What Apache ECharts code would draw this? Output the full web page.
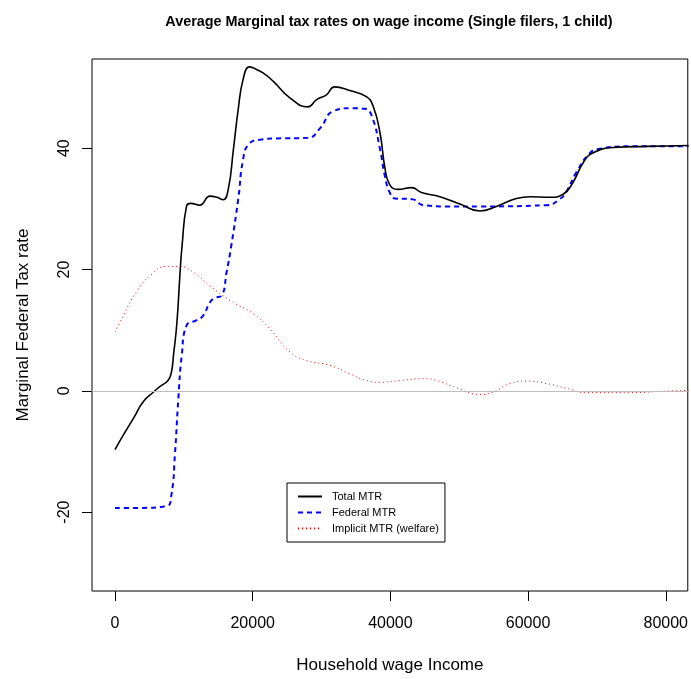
<!DOCTYPE html>
<html>
<head>
<meta charset="utf-8">
<script src="https://cdn.jsdelivr.net/npm/echarts@6/dist/echarts.min.js"></script>
<style>
  html, body { margin: 0; padding: 0; background: #fff; }
  #chart { width: 691px; height: 679px; }
</style>
</head>
<body>
<div id="chart"></div>
<script>
// Average marginal tax rates by household wage income (single filers, 1 child)
const xTicks = [0, 20000, 40000, 60000, 80000];
const yTicks = [-20, 0, 20, 40];

const totalIncome = [0, 1200, 2700, 4100, 5600, 6500, 7700, 8200, 8500, 9000, 9450, 9750, 10400, 11000, 12300, 13800, 14800, 15700, 16450, 17200, 17900, 18600, 19500, 20100, 21500, 23000, 25400, 28000, 29300, 30700, 31900, 34100, 36500, 37500, 38500, 39200, 39900, 41100, 43100, 44500, 47200, 50100, 53000, 55400, 58300, 60300, 63200, 65100, 66500, 68000, 69400, 72400, 77200, 83300];
const totalRate = [-9.7, -7.3, -4.5, -1.8, -0.2, 0.7, 1.7, 3.1, 5.9, 11.3, 19.5, 24.0, 30.5, 30.9, 30.6, 32.1, 31.9, 31.5, 33.2, 39.8, 46.4, 51.3, 53.4, 53.2, 52.4, 51.0, 48.3, 46.8, 48.0, 48.8, 50.1, 49.5, 48.5, 46.9, 42.5, 36.8, 34.0, 33.2, 33.5, 32.7, 32.0, 30.8, 29.65, 30.4, 31.7, 32.0, 31.9, 32.4, 34.3, 37.6, 39.2, 40.1, 40.3, 40.45];

const federalIncome = [0, 3000, 7500, 8200, 8700, 9200, 9700, 10400, 11800, 12800, 13800, 14500, 15500, 16200, 16900, 17900, 18600, 19400, 21000, 23500, 28000, 29800, 31700, 34600, 36300, 37300, 38500, 39200, 39900, 40700, 43100, 44800, 48200, 53000, 62700, 64600, 65600, 67000, 69000, 70400, 74800, 83300];
const federalRate = [-19.3, -19.3, -19.05, -17.1, -10.6, -1.3, 5.9, 10.8, 11.6, 12.4, 14.6, 15.3, 15.7, 19.5, 24.0, 31.6, 38.1, 40.6, 41.4, 41.6, 41.7, 43.3, 46.1, 46.6, 46.5, 45.3, 39.8, 35.4, 32.7, 31.7, 31.6, 30.6, 30.4, 30.4, 30.6, 31.6, 32.9, 36.0, 39.2, 39.9, 40.3, 40.3];

const welfareIncome = [0, 1200, 3100, 5100, 7500, 9400, 11400, 13800, 16700, 20100, 22500, 25400, 27800, 31200, 34100, 36500, 38500, 41400, 44800, 46700, 49600, 53000, 54900, 57400, 59800, 62700, 65600, 68500, 74800, 80100, 83300];
const welfareRate = [9.7, 12.4, 16.3, 19.0, 20.5, 20.5, 19.5, 17.3, 14.9, 12.7, 10.2, 6.4, 5.0, 4.2, 2.8, 1.7, 1.4, 1.7, 2.0, 1.7, 0.5, -0.6, -0.2, 1.2, 1.6, 1.2, 0.4, -0.3, -0.3, -0.05, 0.05];

const pairs = (xs, ys) => xs.map((x, i) => [x, ys[i]]);
const FONT = '"Liberation Sans", Arial, Helvetica, sans-serif';
const plain = v => String(v);

const chart = echarts.init(document.getElementById('chart'), null, { renderer: 'canvas' });

chart.setOption({
  animation: false,
  backgroundColor: '#ffffff',
  title: {
    text: 'Average Marginal tax rates on wage income (Single filers, 1 child)',
    left: 384,
    top: 10,
    textAlign: 'center',
    textStyle: { fontFamily: FONT, fontSize: 14.4, fontWeight: 'bold', color: '#000' }
  },
  grid: {
    left: 92, right: 3, top: 59, bottom: 86,
    show: true, borderColor: '#000', borderWidth: 1, backgroundColor: 'transparent'
  },
  legend: {
    orient: 'vertical',
    left: 287, top: 483,
    padding: [8, 6, 8, 10],
    itemGap: 5,
    itemWidth: 24, itemHeight: 11,
    borderColor: '#000', borderWidth: 1,
    backgroundColor: '#fff',
    itemStyle: { opacity: 0 },
    textStyle: { fontFamily: FONT, fontSize: 11, color: '#000', padding: [0, 0, 0, 5] },
    data: ['Total MTR', 'Federal MTR', 'Implicit MTR (welfare)']
  },
  xAxis: {
    type: 'value',
    min: -3340, max: 83200,
    name: 'Household wage Income',
    nameLocation: 'middle',
    nameGap: 66,
    nameTextStyle: { fontFamily: FONT, fontSize: 17, color: '#000' },
    axisLine: { show: false, onZero: false },
    axisTick: { show: true, length: 10, customValues: xTicks, lineStyle: { color: '#000' } },
    axisLabel: { customValues: xTicks, formatter: plain, margin: 25, fontFamily: FONT, fontSize: 16, color: '#000' },
    splitLine: { show: false }
  },
  yAxis: {
    type: 'value',
    min: -33, max: 54.7,
    name: 'Marginal Federal Tax rate',
    nameLocation: 'middle',
    nameGap: 60,
    nameTextStyle: { fontFamily: FONT, fontSize: 17, color: '#000' },
    axisLine: { show: false, onZero: false },
    axisTick: { show: true, length: 10, customValues: yTicks, lineStyle: { color: '#000' } },
    axisLabel: { customValues: yTicks, formatter: plain, rotate: 90, margin: 19, fontFamily: FONT, fontSize: 16, color: '#000' },
    splitLine: { show: false }
  },
  series: [
    {
      name: 'Total MTR',
      type: 'line',
      data: pairs(totalIncome, totalRate),
      showSymbol: false, symbol: 'none',
      smooth: 0.5,
      clip: true,
      z: 4,
      lineStyle: { color: '#000', width: 1.6, type: 'solid' },
      itemStyle: { color: '#000' },
      markLine: {
        silent: true, symbol: 'none', animation: false,
        label: { show: false },
        lineStyle: { color: '#bebebe', width: 1, type: 'solid' },
        data: [{ yAxis: 0 }]
      }
    },
    {
      name: 'Federal MTR',
      type: 'line',
      data: pairs(federalIncome, federalRate),
      showSymbol: false, symbol: 'none',
      smooth: 0.5,
      clip: true,
      z: 3,
      lineStyle: { color: '#0000ff', width: 2, type: [5, 4] },
      itemStyle: { color: '#0000ff' }
    },
    {
      name: 'Implicit MTR (welfare)',
      type: 'line',
      data: pairs(welfareIncome, welfareRate),
      showSymbol: false, symbol: 'none',
      smooth: 0.5,
      clip: true,
      z: 2,
      lineStyle: { color: '#ff0000', width: 1, type: [1, 3] },
      itemStyle: { color: '#ff0000' }
    }
  ]
});
</script>
</body>
</html>
